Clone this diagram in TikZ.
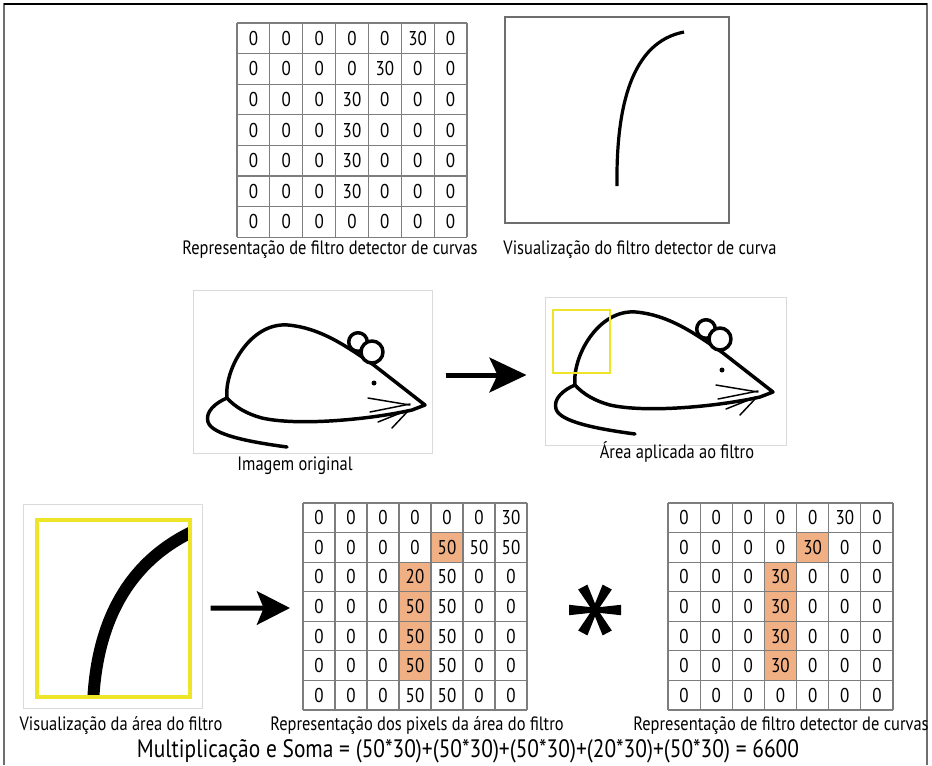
\documentclass[tikz,border=0pt]{standalone}
\usepackage{fontspec}
\setmainfont{PT Sans}[FakeStretch=0.85]
\usetikzlibrary{arrows.meta}

\definecolor{gridgray}{RGB}{125,125,125}
\definecolor{boxgray}{RGB}{218,218,218}
\definecolor{framegray}{RGB}{110,110,110}
\definecolor{peach}{RGB}{241,176,132}
\definecolor{marker}{RGB}{238,228,40}

\tikzset{
  num/.style={font=\fontsize{15}{16}\selectfont, inner sep=0pt},
  caption/.style={font=\fontsize{14.5}{16}\selectfont, inner sep=0pt, anchor=base},
  formula/.style={font=\fontsize{18.9}{21}\selectfont, inner sep=0pt, anchor=base},
  gridline/.style={draw=gridgray, line width=0.8pt},
  imgbox/.style={draw=boxgray, line width=0.75pt, inner sep=0pt},
  plotbox/.style={draw=framegray, line width=0.9pt, inner sep=0pt},
  ink/.style={line width=2.6pt, line cap=round, line join=round},
  whisker/.style={line width=1.1pt, line cap=round},
  window/.style={draw=marker, line width=1.9pt},
  bigarrow/.style={line width=3.75pt, -{Stealth[length=27.75pt, width=26pt, inset=6pt]}},
  midarrow/.style={line width=3.75pt, -{Stealth[length=24.75pt, width=25pt, inset=5pt]}},
  pics/mouse/.style={code={
    % body outline
    \draw[ink, fill=white] (0,0) .. controls (-3,-28) and (23,-76) .. (61,-73)
      .. controls (93,-70) and (118,-53) .. (148,-32) -- (198,7) -- (185,12)
      .. controls (140,22) and (70,28) .. (35,20)
      .. controls (20,16) and (8,9) .. (0,0) -- cycle;
    % tail
    \draw[ink] (0,0) .. controls (-12,5) and (-22,14) .. (-19,24)
      .. controls (-15,37) and (23,44) .. (60,49);
    % ears
    \draw[ink, fill=white] (131,-56) circle[radius=9.3];
    \draw[ink, fill=white] (145,-46) circle[radius=11];
    % eye
    \fill (147,-15) circle[radius=2.5];
    % whiskers
    \draw[whisker] (141,0) -- (183,7);
    \draw[whisker] (143,14) -- (183,6);
    \draw[whisker] (151,24) -- (181,12);
    \draw[whisker] (165,30) -- (181,13);
  }}
}

% number grid: name, left, top, cell width, cell height, rows
\newcommand\numgrid[6]{%
  \foreach \row [count=\r] in {#6} {
    \foreach \v [count=\c] in \row {
      \node[num] (#1-\r-\c) at ({#2+(\c-0.5)*#4},{#3+(\r-0.5)*#5}) {\v};
    }
  }
  \foreach \i in {0,...,7} {
    \draw[gridline] ({#2+\i*#4},#3) -- ({#2+\i*#4},{#3+7*#5});
    \draw[gridline] (#2,{#3+\i*#5}) -- ({#2+7*#4},{#3+\i*#5});
  }
}
% shaded cell: left, top, cell width, cell height, row, column
\newcommand\shadecell[6]{%
  \fill[peach] ({#1+(#6-1)*#3},{#2+(#5-1)*#4}) rectangle ++(#3,#4);
}

\begin{document}
\begin{tikzpicture}[x=0.75pt, y=-0.75pt]
\useasboundingbox (0,0) rectangle (932,765);
\fill[white] (0,0) rectangle (932,765);

% outer frame
\draw[framegray, line width=1.1pt] (4,765) -- (4,4) -- (927,4) -- (927,765);
\draw[black, line width=1.6pt] (4,4) -- (927,4);

% ---- top row: filter values and its picture
\numgrid{topf}{237}{23}{32.86}{30.6}{
  {0,0,0,0,0,30,0},{0,0,0,0,30,0,0},{0,0,0,30,0,0,0},{0,0,0,30,0,0,0},
  {0,0,0,30,0,0,0},{0,0,0,30,0,0,0},{0,0,0,0,0,0,0}}
\node[caption] (captopf) at (330,254) {Representação de filtro detector de curvas};

\node[plotbox, minimum width=168pt, minimum height=154.5pt] (plot) at (617,120) {};
\draw[line width=2.4pt] (617,186) .. controls (616,105) and (632,42) .. (684,32);
\node[caption] (capplot) at (640,254) {Visualização do filtro detector de curva};

% ---- middle row: the mouse and the filter window on it
\node[imgbox, minimum width=179.25pt, minimum height=122.25pt] (mouse1) at (312.5,371.5) {};
\pic at (227,398) {mouse};
\node[caption] (capmouse1) at (295,470) {Imagem original};

\node[imgbox, minimum width=180.75pt, minimum height=111pt] (mouse2) at (665.5,371) {};
\pic at (575,385) {mouse};
\draw[window] (553,310) rectangle (610,373);
\node[caption] (capmouse2) at (677,458) {Área aplicada ao filtro};

\draw[bigarrow] ([shift={(13,3.5)}]mouse1.east) -- ([shift={(-18,4)}]mouse2.west);

% ---- bottom row: window close-up, pixel values, filter values
\node[imgbox, minimum width=134.25pt, minimum height=153pt] (zoombox) at (112.5,606) {};
\begin{scope}
  \clip (37,520) rectangle (190,697);
  \draw[line width=9pt] (93,705) .. controls (96,620) and (130,560) .. (196,530);
\end{scope}
\draw[window, line width=2.6pt] (37,520) rectangle (190,697);
\node[caption] (capzoom) at (121,730) {Visualização da área do filtro};

\shadecell{303}{503}{32}{29.57}{2}{5}
\foreach \r in {3,...,6} {\shadecell{303}{503}{32}{29.57}{\r}{4}}
\numgrid{pix}{303}{503}{32}{29.57}{
  {0,0,0,0,0,0,30},{0,0,0,0,50,50,50},{0,0,0,20,50,0,0},{0,0,0,50,50,0,0},
  {0,0,0,50,50,0,0},{0,0,0,50,50,0,0},{0,0,0,50,50,0,0}}
\node[caption] (cappix) at (417,730) {Representação dos pixels da área do filtro};

\draw[midarrow] ([shift={(8,2)}]zoombox.east) -- ([shift={(-29,1.5)}]pix-4-1.center);

% convolution operator
\coordinate (ast) at (595,610);
\foreach \a in {0,62,118,180,242,298} {
  \fill[rotate around={\a:(ast)}] (595,607.6) -- (621,604.8) -- (621,615.2) -- (595,612.4) -- cycle;
}

\shadecell{668}{503}{32.14}{29.57}{2}{5}
\foreach \r in {3,...,6} {\shadecell{668}{503}{32.14}{29.57}{\r}{4}}
\numgrid{filt}{668}{503}{32.14}{29.57}{
  {0,0,0,0,0,30,0},{0,0,0,0,30,0,0},{0,0,0,30,0,0,0},{0,0,0,30,0,0,0},
  {0,0,0,30,0,0,0},{0,0,0,30,0,0,0},{0,0,0,0,0,0,0}}
\node[caption] (capfilt) at (781,730) {Representação de filtro detector de curvas};

% result of the element-wise product
\node[formula] (sum) at (468,757) {Multiplicação e Soma = (50*30)+(50*30)+(50*30)+(20*30)+(50*30) = 6600};
\end{tikzpicture}
\end{document}
